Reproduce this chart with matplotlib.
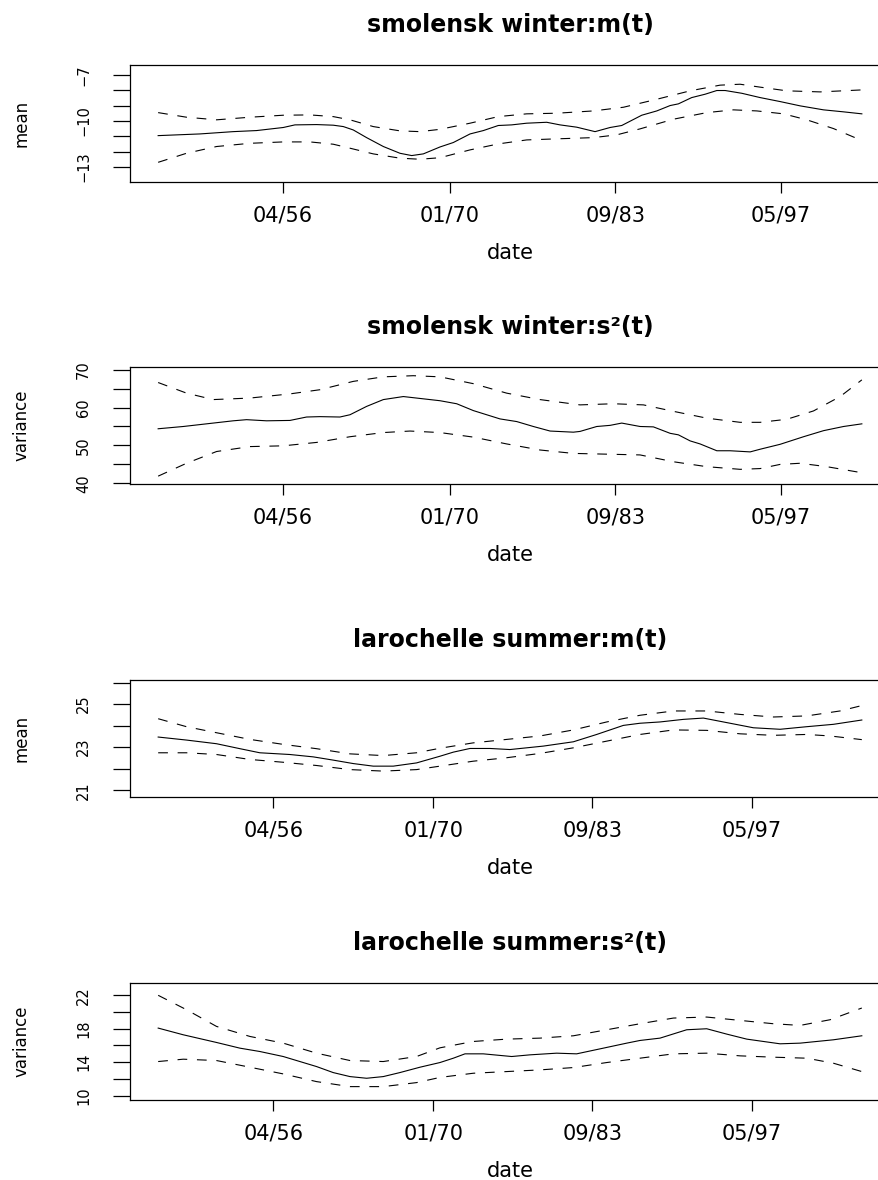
"""Local mean / variance estimates with confidence bands, two stations."""

import matplotlib.pyplot as plt

plt.rcParams['font.family'] = ['DejaVu Sans']
plt.rcParams['lines.scale_dashes'] = False

DATE_TICKS = [1956.25, 1970.0, 1983.67, 1997.33]
DATE_LABELS = ['04/56', '01/70', '09/83', '05/97']

# --- smolensk winter: m(t) ---
SW_M_T = [1945.96, 1949.40, 1952.15, 1954.08, 1956.28, 1957.24, 1959.03, 1960.40,
          1961.23, 1962.05, 1963.15, 1964.53, 1965.90, 1966.87, 1967.83, 1969.20,
          1970.30, 1971.68, 1972.78, 1974.01, 1975.11, 1976.35, 1978.00, 1979.10,
          1980.48, 1981.99, 1983.23, 1984.19, 1985.84, 1987.08, 1988.18, 1988.86,
          1989.96, 1991.07, 1992.03, 1992.72, 1994.09, 1995.60, 1997.25, 1998.90,
          2000.83, 2002.48, 2003.99]
SW_M = [-10.96, -10.85, -10.70, -10.63, -10.43, -10.26, -10.24, -10.28, -10.37,
        -10.59, -11.09, -11.67, -12.11, -12.26, -12.15, -11.70, -11.41, -10.85,
        -10.63, -10.30, -10.26, -10.15, -10.09, -10.26, -10.41, -10.70, -10.43,
        -10.30, -9.63, -9.35, -9.00, -8.89, -8.48, -8.26, -8.02, -8.02, -8.20,
        -8.48, -8.74, -9.02, -9.28, -9.41, -9.54]
SW_M_UP_T = [1945.96, 1948.30, 1950.78, 1953.53, 1956.28, 1958.48, 1960.40, 1961.78,
             1963.70, 1965.90, 1967.55, 1969.20, 1971.68, 1974.01, 1976.35, 1978.83,
             1981.85, 1984.33, 1987.08, 1989.83, 1992.30, 1993.95, 1995.60, 1997.80,
             2000.55, 2003.99]
SW_M_UP = [-9.46, -9.76, -9.93, -9.76, -9.63, -9.61, -9.72, -9.93, -10.37, -10.65,
           -10.70, -10.55, -10.15, -9.72, -9.54, -9.50, -9.35, -9.11, -8.59, -8.04,
           -7.67, -7.61, -7.80, -8.04, -8.11, -7.98]
SW_M_LO_T = [1945.96, 1948.30, 1950.78, 1953.53, 1956.28, 1958.48, 1960.40, 1961.78,
             1963.70, 1965.90, 1967.55, 1969.20, 1971.68, 1974.01, 1976.35, 1978.83,
             1981.85, 1983.78, 1985.70, 1988.45, 1991.20, 1993.40, 1995.33, 1997.53,
             1999.45, 2001.65, 2003.99]
SW_M_LO = [-12.70, -12.11, -11.67, -11.46, -11.37, -11.37, -11.52, -11.78, -12.15,
           -12.43, -12.50, -12.40, -11.89, -11.50, -11.24, -11.17, -11.09, -10.91,
           -10.52, -9.89, -9.46, -9.28, -9.35, -9.54, -9.93, -10.50, -11.28]

# --- smolensk winter: s^2(t) ---
SW_V_T = [1945.96, 1948.03, 1949.95, 1952.15, 1953.25, 1954.90, 1956.83, 1958.20,
          1959.30, 1960.95, 1961.78, 1963.15, 1964.53, 1966.18, 1967.55, 1969.20,
          1970.58, 1971.95, 1974.15, 1975.53, 1976.90, 1978.28, 1980.20, 1980.75,
          1982.13, 1983.23, 1984.19, 1985.70, 1986.80, 1988.18, 1988.86, 1989.83,
          1990.65, 1992.03, 1993.13, 1994.78, 1995.60, 1997.25, 1999.18, 2000.83,
          2002.48, 2003.99]
SW_V = [54.4, 55.0, 55.7, 56.5, 56.8, 56.5, 56.6, 57.5, 57.6, 57.5, 58.1, 60.3,
        62.1, 62.9, 62.4, 61.8, 61.0, 59.2, 57.0, 56.3, 55.0, 53.8, 53.5, 53.7,
        55.0, 55.3, 55.9, 55.0, 54.9, 53.2, 52.8, 51.2, 50.4, 48.6, 48.6, 48.3,
        49.0, 50.3, 52.3, 53.9, 55.0, 55.7]
SW_V_UP_T = [1945.96, 1948.30, 1950.50, 1953.53, 1956.83, 1959.30, 1962.05, 1964.53,
             1967.00, 1969.20, 1971.95, 1974.70, 1977.45, 1980.75, 1983.50, 1985.98,
             1988.45, 1991.20, 1993.95, 1995.60, 1997.80, 2000.00, 2002.20, 2003.99]
SW_V_UP = [66.6, 63.8, 62.1, 62.5, 63.6, 64.7, 66.9, 68.1, 68.4, 68.1, 66.3, 63.8,
           62.1, 60.7, 61.0, 60.7, 59.0, 57.2, 56.1, 56.1, 56.9, 59.1, 62.9, 67.3]
SW_V_LO_T = [1945.96, 1948.30, 1950.78, 1953.53, 1956.28, 1959.03, 1961.78, 1964.53,
             1966.73, 1969.20, 1971.95, 1974.70, 1977.45, 1980.20, 1982.95, 1985.70,
             1988.45, 1991.20, 1993.95, 1995.60, 1997.25, 1998.90, 2001.10, 2003.99]
SW_V_LO = [41.9, 45.3, 48.4, 49.7, 49.9, 50.8, 52.3, 53.4, 53.8, 53.4, 52.2, 50.4,
           48.8, 47.9, 47.7, 47.5, 45.7, 44.4, 43.7, 43.9, 45.0, 45.3, 44.4, 42.8]

# --- larochelle summer: m(t) ---
LS_M_T = [1946.37, 1948.80, 1951.38, 1953.39, 1955.10, 1957.68, 1959.69, 1961.40,
          1963.12, 1964.84, 1966.56, 1968.56, 1970.57, 1971.72, 1973.15, 1974.87,
          1976.58, 1979.45, 1982.03, 1984.03, 1986.32, 1987.75, 1989.47, 1991.48,
          1993.19, 1995.20, 1997.49, 1999.78, 2002.07, 2004.36, 2006.80]
LS_M = [23.47, 23.33, 23.16, 22.93, 22.74, 22.66, 22.55, 22.40, 22.24, 22.12, 22.12,
        22.27, 22.58, 22.77, 22.94, 22.94, 22.89, 23.05, 23.25, 23.59, 24.01, 24.11,
        24.17, 24.29, 24.35, 24.14, 23.90, 23.83, 23.95, 24.06, 24.26]
LS_M_UP_T = [1946.37, 1948.80, 1951.38, 1954.25, 1957.11, 1959.97, 1962.84, 1965.70,
             1968.56, 1970.57, 1973.43, 1976.30, 1979.16, 1982.03, 1984.89, 1987.75,
             1990.62, 1993.48, 1996.34, 1999.21, 2002.07, 2004.93, 2006.80]
LS_M_UP = [24.32, 23.95, 23.67, 23.36, 23.13, 22.93, 22.69, 22.61, 22.74, 22.95,
           23.20, 23.36, 23.52, 23.80, 24.17, 24.48, 24.68, 24.68, 24.52, 24.40,
           24.45, 24.68, 24.93]
LS_M_LO_T = [1946.37, 1948.80, 1951.38, 1954.25, 1957.11, 1959.97, 1962.84, 1965.70,
             1968.56, 1970.57, 1973.43, 1976.30, 1979.16, 1982.03, 1984.89, 1987.75,
             1990.62, 1993.48, 1996.34, 1999.21, 2002.07, 2004.08, 2006.80]
LS_M_LO = [22.74, 22.74, 22.66, 22.43, 22.30, 22.15, 21.96, 21.89, 21.96, 22.12,
           22.35, 22.51, 22.71, 22.97, 23.28, 23.59, 23.80, 23.78, 23.62, 23.55,
           23.59, 23.52, 23.35]

# --- larochelle summer: s^2(t) ---
LS_V_T = [1946.37, 1948.52, 1951.38, 1953.39, 1955.10, 1957.11, 1958.54, 1959.97,
          1961.40, 1962.84, 1964.27, 1965.70, 1967.13, 1968.85, 1970.57, 1971.72,
          1972.72, 1974.29, 1976.73, 1978.30, 1980.59, 1982.31, 1984.60, 1986.61,
          1987.75, 1989.47, 1991.76, 1993.48, 1995.20, 1996.92, 1999.78, 2001.50,
          2004.36, 2006.80]
LS_V = [18.08, 17.28, 16.36, 15.68, 15.28, 14.68, 14.08, 13.48, 12.76, 12.28, 12.08,
        12.28, 12.76, 13.40, 13.96, 14.48, 15.00, 15.00, 14.68, 14.88, 15.08, 15.00,
        15.68, 16.28, 16.60, 16.88, 17.88, 18.00, 17.36, 16.76, 16.20, 16.28, 16.68,
        17.16]
LS_V_UP_T = [1946.37, 1948.80, 1951.38, 1954.25, 1957.11, 1959.97, 1962.84, 1965.70,
             1968.56, 1970.57, 1973.43, 1976.30, 1979.16, 1982.03, 1984.89, 1987.75,
             1990.62, 1993.48, 1996.34, 1999.21, 2001.50, 2004.08, 2006.80]
LS_V_UP = [22.00, 20.28, 18.28, 17.08, 16.28, 15.08, 14.20, 14.08, 14.68, 15.72,
           16.48, 16.76, 16.88, 17.16, 17.88, 18.60, 19.28, 19.40, 19.00, 18.60,
           18.40, 19.08, 20.48]
LS_V_LO_T = [1946.37, 1948.52, 1951.38, 1954.25, 1957.11, 1959.97, 1962.84, 1965.70,
             1968.56, 1970.57, 1973.43, 1976.30, 1979.16, 1982.03, 1984.89, 1987.75,
             1990.62, 1993.48, 1996.34, 1999.21, 2002.07, 2004.36, 2006.80]
LS_V_LO = [14.08, 14.36, 14.20, 13.40, 12.60, 11.68, 11.08, 11.08, 11.56, 12.18,
           12.68, 12.88, 13.08, 13.36, 13.96, 14.48, 15.00, 15.08, 14.76, 14.60,
           14.48, 13.88, 12.88]

PANELS = [
    dict(title='smolensk winter:m(t)', ylabel='mean',
         solid=(SW_M_T, SW_M), upper=(SW_M_UP_T, SW_M_UP), lower=(SW_M_LO_T, SW_M_LO),
         yticks=list(range(-13, -6)), ylabels=[-13, -10, -7],
         ylim=(-13.98, -6.35), xlim=(1943.64, 2006.31), bottom=0.8458),
    dict(title='smolensk winter:s²(t)', ylabel='variance',
         solid=(SW_V_T, SW_V), upper=(SW_V_UP_T, SW_V_UP), lower=(SW_V_LO_T, SW_V_LO),
         yticks=list(range(40, 71, 5)), ylabels=[40, 50, 60, 70],
         ylim=(39.82, 70.7), xlim=(1943.64, 2006.31), bottom=0.5898),
    dict(title='larochelle summer:m(t)', ylabel='mean',
         solid=(LS_M_T, LS_M), upper=(LS_M_UP_T, LS_M_UP), lower=(LS_M_LO_T, LS_M_LO),
         yticks=list(range(21, 27)), ylabels=[21, 23, 25],
         ylim=(20.69, 26.12), xlim=(1943.95, 2009.22), bottom=0.3246),
    dict(title='larochelle summer:s²(t)', ylabel='variance',
         solid=(LS_V_T, LS_V), upper=(LS_V_UP_T, LS_V_UP), lower=(LS_V_LO_T, LS_V_LO),
         yticks=list(range(10, 23, 2)), ylabels=[10, 14, 18, 22],
         ylim=(9.48, 23.48), xlim=(1943.95, 2009.22), bottom=0.0678),
]


def _label(v, shown):
    if v not in shown:
        return ''
    return f'{v}'.replace('-', '\u2212')


def plot_panel(fig, p):
    # width runs past the right edge on purpose: the reference box is cut off there
    ax = fig.add_axes([0.1479, p['bottom'], 0.8646, 0.0992])
    dash = dict(color='black', lw=0.8, linestyle=(0, (7, 7)))
    ax.plot(*p['solid'], color='black', lw=0.8)
    ax.plot(*p['upper'], **dash)
    ax.plot(*p['lower'], **dash)

    ax.set_xlim(*p['xlim'])
    ax.set_ylim(*p['ylim'])
    ax.set_xticks(DATE_TICKS, DATE_LABELS, fontsize=15)
    ax.set_yticks(p['yticks'], [_label(v, p['ylabels']) for v in p['yticks']],
                  fontsize=10.5, rotation=90, va='center')
    ax.tick_params(axis='x', length=8, width=0.9, pad=9)
    ax.tick_params(axis='y', length=12, width=0.9, pad=16)
    for s in ax.spines.values():
        s.set_linewidth(0.9)

    ax.set_title(p['title'], fontsize=17, fontweight='bold', pad=24)
    ax.set_xlabel('date', fontsize=15, va='center')
    ax.xaxis.set_label_coords(0.5, -0.607)
    ax.set_ylabel(p['ylabel'], fontsize=12, va='center')
    ax.yaxis.set_label_coords(-0.1434, 0.5)


def main():
    fig = plt.figure(figsize=(8.79, 11.80), dpi=100)
    for p in PANELS:
        plot_panel(fig, p)
    fig.savefig('out.png', dpi=100)
    plt.close(fig)


if __name__ == '__main__':
    main()
